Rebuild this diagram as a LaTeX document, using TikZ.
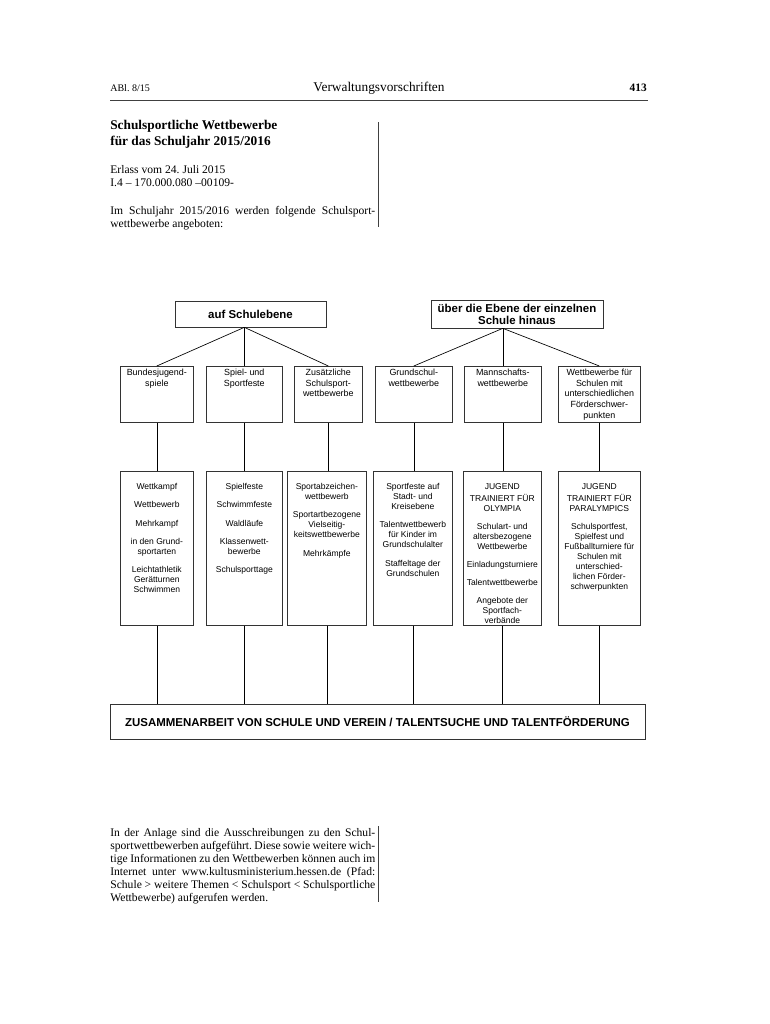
\documentclass[tikz,border=0pt]{standalone}
\usepackage{fontspec}
\setmainfont{Liberation Serif}
\newfontfamily\arial{Liberation Sans}
\frenchspacing
\newdimen\pxu \pxu=0.75pt
\newcommand\cell[4]{\parbox[b][#2\pxu][t]{#1\pxu}{\centering\vspace*{#3}\strut#4}}
\newcommand\gap{\\[6.1pt]}
\newcommand\jline[1]{\makebox[\linewidth][s]{#1}\\}
\tikzset{
  rule/.style={line width=0.6pt,black!75},
  cat/.style={draw=black!80,inner sep=0pt,anchor=north west,font=\arial\fontsize{6.7}{8}\selectfont},
  sub/.style={cat,font=\arial\fontsize{6.4}{7.5}\selectfont},
  head/.style={draw=black!80,inner sep=0pt,align=center,font=\arial\bfseries\fontsize{8.6}{9}\selectfont},
  txt/.style={anchor=base west,inner sep=0pt,font=\fontsize{8.7}{9.75}\selectfont},
  every picture/.style={line width=0.5pt},
}
\begin{document}
\begin{tikzpicture}[x=0.75pt,y=-0.75pt]
\fill[white] (0,0) rectangle (770,1024); \useasboundingbox (0,0) rectangle (770,1024);
\node[anchor=base west,inner sep=0pt,font=\fontsize{7.5}{9}\selectfont] (abl) at (110,91) {ABl. 8/15};
\node[anchor=base,inner sep=0pt,font=\fontsize{10}{12}\selectfont] (vv) at (379,91) {Verwaltungsvorschriften};
\node[anchor=base east,inner sep=0pt,font=\bfseries\fontsize{8.5}{10}\selectfont] (page) at (647,91) {413};
\draw[rule] (110,100) -- (648,100);
\node[txt,font=\bfseries\fontsize{10}{12}\selectfont] (title) at (110,129) {\parbox[t]{265\pxu}{Schulsportliche Wettbewerbe\\für das Schuljahr 2015/2016}};
\node[txt] (erlass) at (110,173) {\parbox[t]{265\pxu}{Erlass vom 24. Juli 2015\\I.4 – 170.000.080 –00109-}};
\node[txt] (intro) at (110,214) {\parbox[t]{265\pxu}{\jline{Im Schuljahr 2015/2016 werden folgende Schulsport-}wettbewerbe angeboten:}};
\draw[rule] (378,122) -- (378,227);
\node[head,minimum width=151\pxu,minimum height=26\pxu] (school) at (250.5,314) {auf Schulebene};
\node[head,minimum width=172\pxu,minimum height=28\pxu] (beyond) at (517,314) {über die Ebene der einzelnen\\Schule hinaus};
\node[cat] (b1) at (120,366) {\cell{73}{56}{1.2pt}{Bundesjugend-\\spiele}};
\node[cat] (b2) at (206,366) {\cell{76}{56}{1.2pt}{Spiel- und\\Sportfeste}};
\node[cat] (b3) at (294,366) {\cell{68}{56}{1.2pt}{Zusätzliche\\Schulsport-\\wettbewerbe}};
\node[cat] (b4) at (375,366) {\cell{77}{56}{1.2pt}{Grundschul-\\wettbewerbe}};
\node[cat] (b5) at (464,366) {\cell{77}{56}{1.2pt}{Mannschafts-\\wettbewerbe}};
\node[cat] (b6) at (558,366) {\cell{82}{56}{1.2pt}{Wettbewerbe für\\Schulen mit\\unterschiedlichen\\Förderschwer-\\punkten}};
\node[sub] (c1) at (120,471) {\cell{73}{154}{8.6pt}{Wettkampf\gap Wettbewerb\gap Mehrkampf\gap in den Grund-\\sportarten\gap Leichtathletik\\Gerätturnen\\Schwimmen}};
\node[sub] (c2) at (206,471) {\cell{76}{154}{8.6pt}{Spielfeste\gap Schwimmfeste\gap Waldläufe\gap Klassenwett-\\bewerbe\gap Schulsporttage}};
\node[sub] (c3) at (287,471) {\cell{79}{154}{8.6pt}{Sportabzeichen-\\wettbewerb\gap Sportartbezogene\\Vielseitig-\\keitswettbewerbe\gap Mehrkämpfe}};
\node[sub] (c4) at (373,471) {\cell{79}{154}{8.6pt}{Sportfeste auf\\Stadt- und\\Kreisebene\gap Talentwettbewerb\\für Kinder im\\Grundschulalter\gap Staffeltage der\\Grundschulen}};
\node[sub] (c5) at (463,471) {\cell{78}{154}{8.6pt}{JUGEND\\TRAINIERT FÜR\\OLYMPIA\gap Schulart- und\\altersbezogene\\Wettbewerbe\gap Einladungsturniere\gap Talentwettbewerbe\gap Angebote der\\Sportfach-\\verbände}};
\node[sub] (c6) at (558,471) {\cell{82}{154}{8.6pt}{JUGEND\\TRAINIERT FÜR\\PARALYMPICS\gap Schulsportfest,\\Spielfest und\\Fußballturniere für\\Schulen mit\\unterschied-\\lichen Förder-\\schwerpunkten}};
\node[head,minimum width=535\pxu,minimum height=35\pxu] (zus) at (377.5,721.5) {ZUSAMMENARBEIT VON SCHULE UND VEREIN / TALENTSUCHE UND TALENTFÖRDERUNG};
\coordinate (sa) at (b2.north |- school.south); \coordinate (ba) at (b5.north |- beyond.south);
\draw (sa) -- (b1.north); \draw (sa) -- (b2.north); \draw (sa) -- (b3.north);
\draw (ba) -- (b4.north); \draw (ba) -- (b5.north); \draw (ba) -- (b6.north);
\foreach \i in {1,...,6} {\draw (b\i.south) -- (b\i.south |- c\i.north); \draw (c\i.south) -- (c\i.south |- zus.north);}
\node[txt] (annex) at (110,836) {\parbox[t]{265\pxu}{\jline{In der Anlage sind die Ausschreibungen zu den Schul-}\jline{sportwettbewerben aufgeführt. Diese sowie weitere wich-}\jline{tige Informationen zu den Wettbewerben können auch im}\jline{Internet unter www.kultusministerium.hessen.de (Pfad:}\jline{Schule > weitere Themen < Schulsport < Schulsportliche}Wettbewerbe) aufgerufen werden.}};
\draw[rule] (378,826) -- (378,902);
\end{tikzpicture}
\end{document}
